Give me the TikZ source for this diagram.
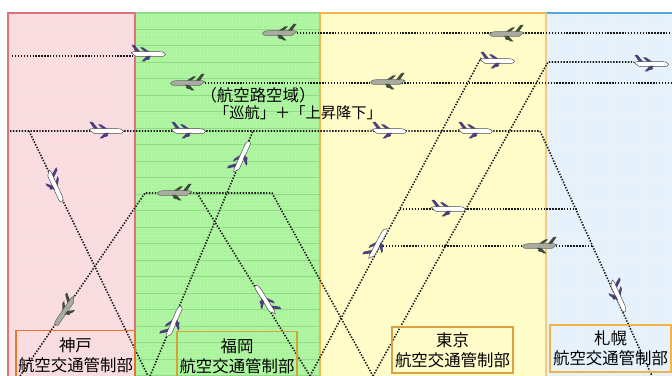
\documentclass[tikz,border=0pt]{standalone}
\usepackage{fontspec}
\newfontfamily\jp{Noto Sans CJK JP}
\definecolor{kobepink}{HTML}{F9DADF}
\definecolor{kobered}{HTML}{E0707A}
\definecolor{kobeframe}{HTML}{E8742E}
\definecolor{fukgreen}{HTML}{A9F49A}
\definecolor{fukline}{HTML}{8FDC84}
\definecolor{fukframe}{HTML}{D2A434}
\definecolor{tokyel}{HTML}{FFFCC6}
\definecolor{tokorange}{HTML}{F2B34C}
\definecolor{sapblue}{HTML}{E4F1FB}
\definecolor{sapline}{HTML}{5AA6E0}
\definecolor{jettrim}{HTML}{4B3F7A}
\definecolor{jetgrey}{HTML}{A9ABA0}
\definecolor{jetdark}{HTML}{3E4A3A}

\tikzset{
  pics/plane/.style={code={
    \fill[ptrim] (-2,-1) -- (-8,-6.5) -- (-5,-6.5) -- (2.5,-1.5) -- cycle;
    \draw[pbody] (-14,-2.4) -- (11,-2.4) .. controls (15.5,-2.4) and (17.5,-0.6) .. (17.5,0.3)
      .. controls (16.5,2.4) .. (11,2.4) -- (-12,2.4) -- (-17,-1.4) -- cycle;
    \fill[ptrim] (-12,-2.4) -- (-16.5,-9) -- (-13.5,-9) -- (-8,-2.4) -- cycle;
    \fill[ptrim] (-1,1.8) -- (-6.5,7.5) -- (-3.5,7.5) -- (3.5,1.8) -- cycle;
    \fill[ptrim] (-0.5,4.4) ellipse [x radius=2.6, y radius=1.5];
  }},
  pbody/.style={draw=black!70,fill=white,line width=0.4pt},
  ptrim/.style={fill=jettrim},
  grey jet/.style={pbody/.style={draw=black!60,fill=jetgrey,line width=0.4pt},ptrim/.style={fill=jetdark}},
}

\begin{document}
\begin{tikzpicture}[x=0.03cm,y=-0.03cm,font=\jp,
    route/.style={draw=black!90,line width=1.35pt,dash pattern=on 1.2pt off 1.3pt},
    lbl/.style={draw,line width=1.2pt,align=center,inner sep=0pt,font=\jp\fontsize{14}{17}\selectfont}]
  \useasboundingbox (0,0) rectangle (672,376);
  \clip (0,0) rectangle (672,376);

  % sectors
  \fill[kobepink] (8,13) rectangle (135,380);
  \fill[fukgreen] (135,13) rectangle (320,380);
  \fill[tokyel] (320,13) rectangle (546,380);
  \fill[sapblue] (546,13) rectangle (672,380);
  \draw[white,opacity=.12,line width=.25pt,step=3pt] (8,13) grid (672,380);
  \foreach \y in {29,45.5,...,376}
    \draw[fukline,line width=.6pt] (135,\y) -- (320,\y);
  \draw[fukline,line width=1.7pt] (135,13) -- (320,13);
  \draw[tokorange,line width=1.7pt] (320,380) -- (320,13) -- (546,13);
  \draw[sapline,line width=1.7pt] (546,13) -- (672,13);
  \draw[tokorange!70,line width=1.5pt] (546,13) -- (546,380);
  \draw[kobered,line width=1.7pt] (8,380) -- (8,13) -- (135,13) -- (135,380);

  % waypoints
  \coordinate (k1) at (540,131);
  \coordinate (s1) at (652,376);
  \coordinate (b1) at (145,193);
  \coordinate (b2) at (272,193);
  \coordinate (d0) at (197,193);
  \coordinate (d1) at (310,376);
  \coordinate (b3) at (373,376);
  \coordinate (f1) at (548,62);

  % routes
  \draw[route] (12,56) -- (133,56);
  \draw[route] (297,33) -- (672,33);
  \draw[route] (205,83) -- (672,83);
  \draw[route] (10,131) -- (k1) -- (s1);
  \draw[route] (29,131) -- (148,376);
  \draw[route] (20,376) -- (b1) -- (b2) -- (b3);
  \draw[route] (d0) -- (d1);
  \draw[route] (150,376) -- (253,131);
  \draw[route] (d1) -- (481,58);
  \draw[route] (b3) -- (f1) -- (634,62);
  \draw[route] (400,209) -- (576,209);
  \draw[route] (380,246) -- (593,246);

  % aircraft
  \pic (p1) at (148,54) {plane};
  \pic[grey jet,xscale=-1] (p2) at (280,33) {plane};
  \pic[grey jet,xscale=-1] (p3) at (188,83) {plane};
  \pic (p4) at (106,131) {plane};
  \pic (p5) at (188,131) {plane};
  \pic[rotate=66] (p6) at (242,157) {plane};
  \pic[rotate=-65] (p7) at (55,186) {plane};
  \pic[grey jet,rotate=55.5,xscale=-1] (p8) at (65,311) {plane};
  \pic[grey jet,xscale=-1] (p9) at (175,193) {plane};
  \pic[rotate=-58,xscale=-1] (p10) at (265,300) {plane};
  \pic[rotate=67] (p11) at (174,322) {plane};
  \pic[grey jet,xscale=-1] (p12) at (388,82) {plane};
  \pic (p13) at (389,131) {plane};
  \pic (p14) at (475,131) {plane};
  \pic[grey jet,xscale=-1] (p15) at (507,34) {plane};
  \pic (p16) at (497,61) {plane};
  \pic (p17) at (651,64) {plane};
  \pic (p18) at (448,209) {plane};
  \pic[grey jet,xscale=-1] (p19) at (540,246) {plane};
  \pic[rotate=62] (p20) at (378,244) {plane};
  \pic[rotate=-65.5] (p21) at (618,296) {plane};

  \node (kuiki) at (258,95) {\fontsize{14}{16}\selectfont （航空路空域）};
  \node (junko) at (298,113) {\fontsize{13}{15}\selectfont 「巡航」＋「上昇降下」};

  % control centres
  \node[lbl,draw=kobeframe,minimum width=3.57cm,minimum height=1.5cm,anchor=north] (kobe) at (75.5,330) {神戸\\航空交通管制部};
  \node[lbl,draw=fukframe,minimum width=3.6cm,minimum height=1.45cm,anchor=north] (fukuoka) at (237,331) {福岡\\航空交通管制部};
  \node[lbl,draw=tokorange!90!black,minimum width=3.63cm,minimum height=1.38cm] (tokyo) at (452.5,350) {東京\\航空交通管制部};
  \node[lbl,draw=tokorange,minimum width=3.63cm,minimum height=1.41cm] (sapporo) at (610.5,348.5) {札幌\\航空交通管制部};
\end{tikzpicture}
\end{document}
